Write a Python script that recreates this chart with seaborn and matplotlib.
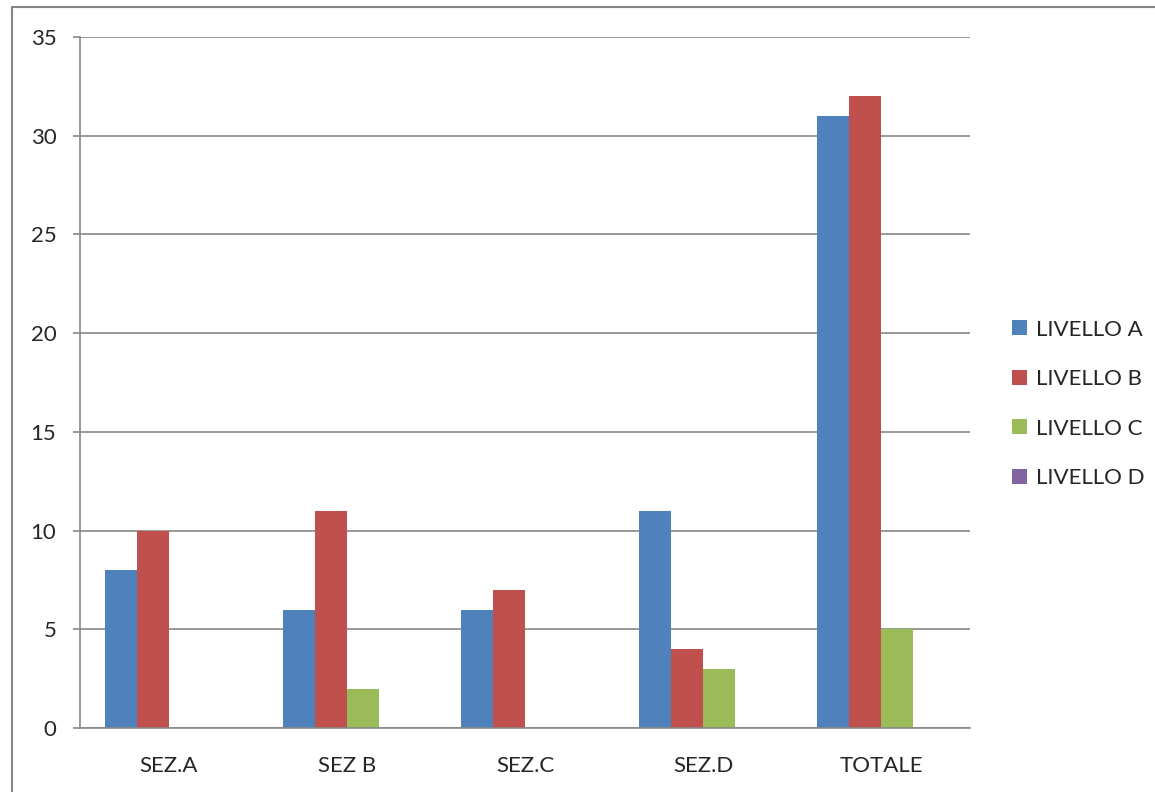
import numpy as np
import pandas as pd
import matplotlib
matplotlib.use("Agg")
import matplotlib.pyplot as plt
from matplotlib.patches import Patch
from matplotlib.lines import Line2D
import seaborn as sns

# ============================================
# Data
# ============================================
categories = ["SEZ.A", "SEZ B", "SEZ.C", "SEZ.D", "TOTALE"]
livello_a = [8, 6, 6, 11, 31]
livello_b = [10, 11, 7, 4, 32]
livello_c = [0, 2, 0, 3, 5]
livello_d = [0, 0, 0, 0, 0]
series_names = ["LIVELLO A", "LIVELLO B", "LIVELLO C", "LIVELLO D"]
colors = ["#4F81BD", "#C0504D", "#9BBB59", "#8064A2"]

df = pd.DataFrame({
    "sezione": categories * 4,
    "livello": np.repeat(series_names, len(categories)),
    "valore": livello_a + livello_b + livello_c + livello_d,
})

# ============================================
# Plot
# ============================================
sns.set_style("white")
plt.rcParams["font.family"] = ["Lato", "DejaVu Sans"]

fig = plt.figure(figsize=(11.55, 7.92), dpi=100)
ax = fig.add_axes([80 / 1155, 1 - 728 / 792, 890 / 1155, 691 / 792])

sns.barplot(data=df, x="sezione", y="valore", hue="livello",
            palette=colors, width=0.72, saturation=1,
            edgecolor="none", legend=False, ax=ax)

grid_col = "#888888"
ax.set_ylim(0, 35)
ax.set_xlim(-0.5, len(categories) - 0.5)
ax.set_yticks(range(0, 36, 5))
ax.yaxis.grid(True, color=grid_col, linewidth=1.2)
ax.set_axisbelow(True)
for s in ["top", "right"]:
    ax.spines[s].set_visible(False)
for s in ["left", "bottom"]:
    ax.spines[s].set_color(grid_col)
    ax.spines[s].set_linewidth(1.2)

ax.set_xticks(np.arange(-0.5, len(categories), 1), minor=True)
ax.tick_params(axis="x", which="major", length=0, pad=20, labelsize=16)
ax.tick_params(axis="x", which="minor", length=5, width=1.2, color=grid_col,
               direction="out")
ax.tick_params(axis="y", length=5, width=1.2, color=grid_col,
               direction="out", pad=12, labelsize=16, left=True)
ax.set_xlabel("")
ax.set_ylabel("")

handles = [Patch(facecolor=c, edgecolor="none") for c in colors]
ax.legend(handles, series_names, loc="center left",
          bbox_to_anchor=(1.025, 0.469), frameon=False, fontsize=16,
          handlelength=0.65, handleheight=0.65, handletextpad=0.4,
          labelspacing=1.33)

# chart-area border (left and top edges visible)
x0, y0 = 12 / 1155, 1 - 7 / 792
fig.add_artist(Line2D([x0, x0], [0, y0], color="#868686", linewidth=1.5))
fig.add_artist(Line2D([x0, 1], [y0, y0], color="#868686", linewidth=1.5))

fig.savefig("out.png", dpi=100)
